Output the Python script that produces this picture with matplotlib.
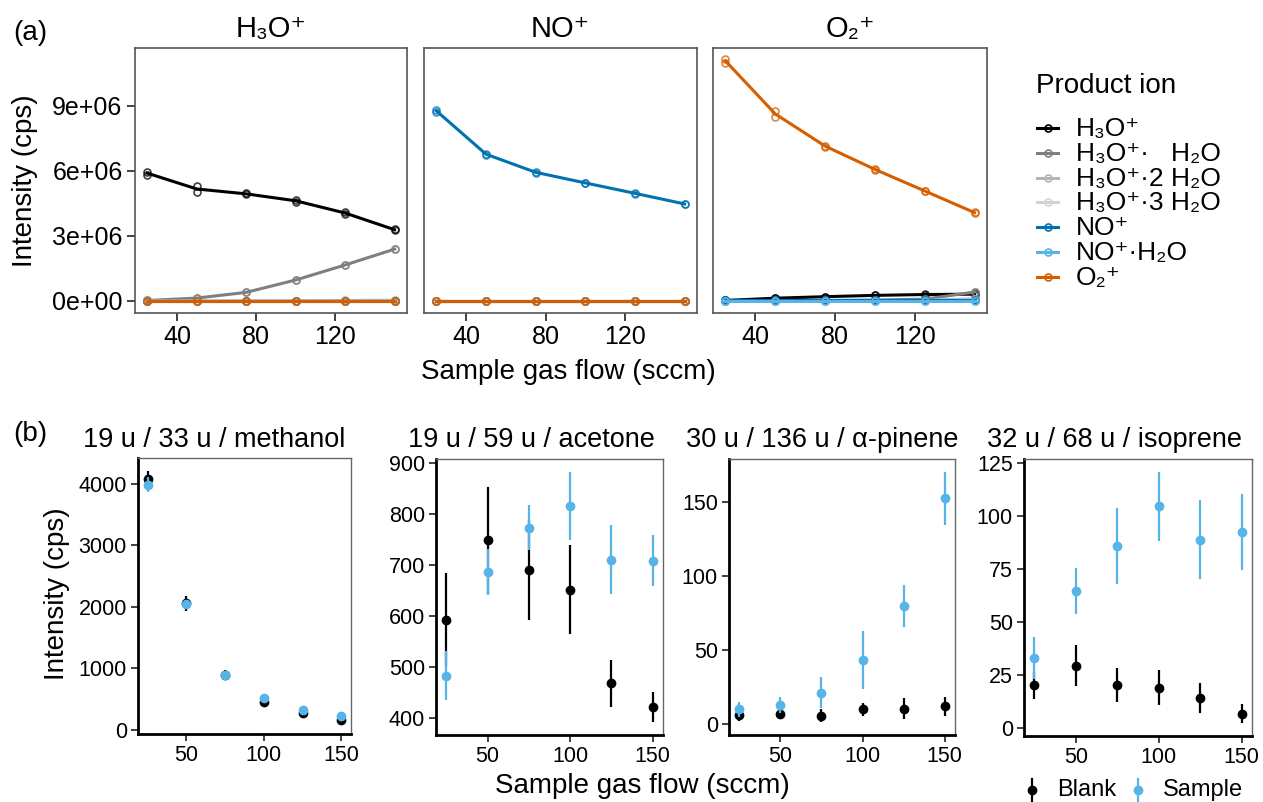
from matplotlib import pyplot as plt
from matplotlib.lines import Line2D
from matplotlib.ticker import FuncFormatter
import numpy as np

plt.rcParams['font.family'] = ['Liberation Sans', 'DejaVu Sans']

# ---- data -----------------------------------------------------------------
flow = [25, 50, 75, 100, 125, 150]

reagent_labels = ['H₃O⁺', 'NO⁺', 'O₂⁺']
product_labels = ['H₃O⁺', 'H₃O⁺·   H₂O', 'H₃O⁺·2 H₂O',
                  'H₃O⁺·3 H₂O', 'NO⁺', 'NO⁺·H₂O', 'O₂⁺']
product_colors = ['#000000', '#7f7f7f', '#b5b5b5', '#d4d4d4',
                  '#0072B2', '#56B4E9', '#D55E00']

# intensities in 1e6 cps, rows follow product_labels, two replicates each
h3o_rep1 = [[5.97, 5.29, 4.96, 4.66, 4.09, 3.30],
            [0.02, 0.14, 0.40, 0.97, 1.67, 2.40],
            [0.00, 0.00, 0.01, 0.01, 0.02, 0.03],
            [0.00, 0.00, 0.00, 0.00, 0.00, 0.00],
            [0.01, 0.01, 0.01, 0.01, 0.01, 0.01],
            [0.00, 0.00, 0.00, 0.00, 0.00, 0.00],
            [0.01, 0.01, 0.01, 0.01, 0.01, 0.01]]
h3o_rep2 = [[5.82, 5.04, 4.92, 4.58, 4.02, 3.27],
            [0.02, 0.12, 0.39, 0.96, 1.65, 2.38],
            [0.00, 0.00, 0.01, 0.01, 0.02, 0.03],
            [0.00, 0.00, 0.00, 0.00, 0.00, 0.00],
            [0.01, 0.01, 0.01, 0.01, 0.01, 0.01],
            [0.00, 0.00, 0.00, 0.00, 0.00, 0.00],
            [0.01, 0.01, 0.01, 0.01, 0.01, 0.01]]
no_rep1 = [[0.01, 0.01, 0.01, 0.01, 0.01, 0.01],
           [0.00, 0.00, 0.00, 0.00, 0.00, 0.00],
           [0.00, 0.00, 0.00, 0.00, 0.00, 0.00],
           [0.00, 0.00, 0.00, 0.00, 0.00, 0.00],
           [8.80, 6.80, 5.95, 5.46, 4.98, 4.49],
           [0.01, 0.01, 0.01, 0.01, 0.01, 0.01],
           [0.01, 0.01, 0.01, 0.01, 0.01, 0.01]]
no_rep2 = [[0.01, 0.01, 0.01, 0.01, 0.01, 0.01],
           [0.00, 0.00, 0.00, 0.00, 0.00, 0.00],
           [0.00, 0.00, 0.00, 0.00, 0.00, 0.00],
           [0.00, 0.00, 0.00, 0.00, 0.00, 0.00],
           [8.74, 6.74, 5.92, 5.43, 4.95, 4.46],
           [0.01, 0.01, 0.01, 0.01, 0.01, 0.01],
           [0.01, 0.01, 0.01, 0.01, 0.01, 0.01]]
o2_rep1 = [[0.02, 0.13, 0.20, 0.26, 0.30, 0.35],
           [0.00, 0.01, 0.02, 0.04, 0.08, 0.42],
           [0.00, 0.00, 0.00, 0.01, 0.02, 0.10],
           [0.00, 0.00, 0.00, 0.00, 0.01, 0.05],
           [0.02, 0.02, 0.02, 0.02, 0.02, 0.02],
           [0.00, 0.00, 0.00, 0.00, 0.00, 0.00],
           [11.17, 8.77, 7.17, 6.09, 5.09, 4.09]]
o2_rep2 = [[0.02, 0.12, 0.19, 0.25, 0.29, 0.27],
           [0.00, 0.01, 0.02, 0.04, 0.08, 0.40],
           [0.00, 0.00, 0.00, 0.01, 0.02, 0.10],
           [0.00, 0.00, 0.00, 0.00, 0.01, 0.05],
           [0.02, 0.02, 0.02, 0.02, 0.02, 0.02],
           [0.00, 0.00, 0.00, 0.00, 0.00, 0.00],
           [10.98, 8.49, 7.12, 6.05, 5.06, 4.06]]

# panel (b): mean and half error bar (cps)
voc_titles = ['19 u / 33 u / methanol', '19 u / 59 u / acetone',
              '30 u / 136 u / α-pinene', '32 u / 68 u / isoprene']
methanol_blank = [4080, 2060, 900, 446, 274, 161]
methanol_blank_err = [140, 120, 70, 30, 25, 25]
methanol_sample = [3990, 2050, 885, 516, 328, 231]
methanol_sample_err = [120, 50, 30, 20, 20, 20]
acetone_blank = [593, 749, 691, 652, 468, 421]
acetone_blank_err = [91, 105, 98, 87, 46, 30]
acetone_sample = [483, 687, 774, 817, 711, 709]
acetone_sample_err = [48, 45, 44, 67, 67, 50]
pinene_blank = [6.5, 7.2, 6.0, 10.1, 10.5, 12.3]
pinene_blank_err = [4.0, 3.5, 4.7, 4.3, 7.0, 6.5]
pinene_sample = [10.1, 13.2, 21.3, 43.7, 80.0, 152.9]
pinene_sample_err = [5.0, 5.5, 10.5, 19.5, 14.5, 18.0]
isoprene_blank = [20.1, 29.4, 20.4, 19.0, 14.0, 6.6]
isoprene_blank_err = [6.5, 9.6, 8.1, 8.3, 7.1, 4.5]
isoprene_sample = [33.2, 64.6, 85.8, 104.7, 89.0, 92.6]
isoprene_sample_err = [9.9, 11.0, 17.9, 16.4, 18.6, 17.9]
voc_yticks = [[0, 1000, 2000, 3000, 4000], [400, 500, 600, 700, 800, 900],
              [0, 50, 100, 150], [0, 25, 50, 75, 100, 125]]

blank_color = '#000000'
sample_color = '#56B4E9'

W, H = 1263, 802


def fx(px):
    return px / W


def fy(py):
    return 1 - py / H


def box(left, top, right, bottom):
    return [fx(left), fy(bottom), fx(right) - fx(left), fy(top) - fy(bottom)]


fig = plt.figure(figsize=(W / 100, H / 100), dpi=100)

# ---- panel (a) ------------------------------------------------------------
a_boxes = [box(135, 48, 407, 313), box(424, 48, 697, 313), box(713, 48, 987, 313)]
reps = [(h3o_rep1, h3o_rep2), (no_rep1, no_rep2), (o2_rep1, o2_rep2)]

ymax = max(np.max(r1) for r1, _ in reps) * 1e6
for k, (r1, r2) in enumerate(reps):
    ax = fig.add_axes(a_boxes[k])
    for i, col in enumerate(product_colors):
        v1 = np.array(r1[i]) * 1e6
        v2 = np.array(r2[i]) * 1e6
        ax.plot(flow, (v1 + v2) / 2, color=col, lw=2.2, zorder=2 + i)
        for v in (v1, v2):
            ax.plot(flow, v, ls='none', marker='o', ms=5, mfc='none',
                    mec=col, mew=1.2, alpha=0.75, zorder=2 + i)
    ax.set_xlim(18.75, 156.25)
    ax.set_ylim(-0.05 * ymax, 1.045 * ymax)
    ax.set_xticks([40, 80, 120])
    ax.set_yticks([0, 3e6, 6e6, 9e6])
    ax.yaxis.set_major_formatter(FuncFormatter(lambda v, p: f'{v:.0e}'))
    if k > 0:
        ax.tick_params(axis='y', left=False, labelleft=False)
    ax.tick_params(direction='out', length=6, width=1.3, color='#333333',
                   labelsize=18, pad=3)
    for s in ax.spines.values():
        s.set_color('#555555')
        s.set_linewidth(1.2)
    ax.set_title(reagent_labels[k], fontsize=21, pad=8)

fig.text(fx(25), fy(181), 'Intensity (cps)', rotation=90, fontsize=20,
         ha='center', va='center')
fig.text(fx(568), fy(372), 'Sample gas flow (sccm)', fontsize=20,
         ha='center', va='center')
fig.text(fx(13), fy(33), '(a)', fontsize=20, ha='left', va='center')

# legend (a)
fig.text(fx(1036), fy(86), 'Product ion', fontsize=20, ha='left', va='center')
for i, (lab, col) in enumerate(zip(product_labels, product_colors)):
    y = 128 + i * 24.8
    fig.add_artist(Line2D([fx(1037), fx(1058)], [fy(y), fy(y)], color=col,
                          lw=2.2, transform=fig.transFigure))
    fig.add_artist(Line2D([fx(1047.5)], [fy(y)], ls='none', marker='o', ms=5,
                          mfc='none', mec=col, mew=1.2,
                          transform=fig.transFigure))
    fig.text(fx(1076), fy(y + 8), lab, fontsize=19, ha='left',
             va='baseline', color='black')

# ---- panel (b) ------------------------------------------------------------
b_boxes = [box(138, 458, 351, 734), box(436, 459, 663, 735),
           box(729, 459, 955, 735), box(1024, 459, 1252, 736)]
title_x = [83, 408, 686, 987]
blanks = [(methanol_blank, methanol_blank_err), (acetone_blank, acetone_blank_err),
          (pinene_blank, pinene_blank_err), (isoprene_blank, isoprene_blank_err)]
samples = [(methanol_sample, methanol_sample_err),
           (acetone_sample, acetone_sample_err),
           (pinene_sample, pinene_sample_err),
           (isoprene_sample, isoprene_sample_err)]

for k in range(4):
    ax = fig.add_axes(b_boxes[k])
    lo, hi = [], []
    for (vals, errs), col, z in [(blanks[k], blank_color, 3),
                                 (samples[k], sample_color, 4)]:
        vals = np.array(vals)
        errs = np.array(errs)
        ax.errorbar(flow, vals, yerr=errs, fmt='o', color=col, ms=6,
                    elinewidth=1.6, capsize=0, zorder=z)
        lo.append(np.min(vals - errs))
        hi.append(np.max(vals + errs))
    lo, hi = min(lo), max(hi)
    ax.set_ylim(lo - 0.05 * (hi - lo), hi + 0.05 * (hi - lo))
    ax.set_xlim(18.75, 156.25)
    ax.set_xticks([50, 100, 150])
    ax.set_yticks(voc_yticks[k])
    ax.tick_params(direction='out', length=5, width=1.3, color='#333333',
                   labelsize=15.5, pad=3)
    for s in ax.spines.values():
        s.set_color('#666666')
        s.set_linewidth(1.0)
    for side in ('left', 'bottom'):
        ax.spines[side].set_color('black')
        ax.spines[side].set_linewidth(2.0)
    fig.text(fx(title_x[k]), fy(440), voc_titles[k], fontsize=19.5,
             ha='left', va='center')

fig.text(fx(57), fy(594), 'Intensity (cps)', rotation=90, fontsize=20,
         ha='center', va='center')
fig.text(fx(642), fy(786), 'Sample gas flow (sccm)', fontsize=20,
         ha='center', va='center')
fig.text(fx(13), fy(434), '(b)', fontsize=20, ha='left', va='center')

# legend (b)
for name, col, xm in [('Blank', blank_color, 1032), ('Sample', sample_color, 1138)]:
    fig.add_artist(Line2D([fx(xm), fx(xm)], [fy(779), fy(801)], color=col,
                          lw=1.6, transform=fig.transFigure))
    fig.add_artist(Line2D([fx(xm)], [fy(790)], ls='none', marker='o', ms=6,
                          color=col, transform=fig.transFigure))
    fig.text(fx(xm + 25), fy(790), name, fontsize=17, ha='left', va='center')

fig.savefig('out.png', dpi=100)
